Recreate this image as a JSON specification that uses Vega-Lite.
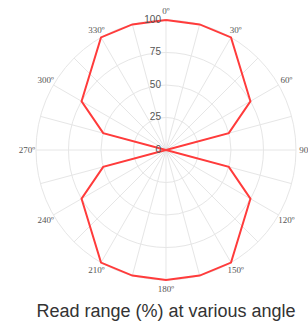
{
  "$schema": "https://vega.github.io/schema/vega-lite/v6.json",
  "width": 308,
  "height": 300,
  "autosize": "none",
  "padding": {"left": 0, "right": 0, "top": 0, "bottom": 25},
  "config": {"view": {"stroke": null}},
  "title": {"text": "Read range (%) at various angle", "orient": "bottom", "anchor": "middle", "dx": 12, "offset": 3, "font": "Liberation Sans", "fontSize": 18, "fontWeight": "normal", "color": "#333333"},
  "datasets": {
    "series": [
      {"angle": 0, "value": 100}, {"angle": 15, "value": 100}, {"angle": 30, "value": 100},
      {"angle": 60, "value": 75}, {"angle": 75, "value": 50}, {"angle": 90, "value": 0},
      {"angle": 105, "value": 50}, {"angle": 120, "value": 75}, {"angle": 150, "value": 100},
      {"angle": 165, "value": 100}, {"angle": 180, "value": 100}, {"angle": 195, "value": 100},
      {"angle": 210, "value": 100}, {"angle": 240, "value": 75}, {"angle": 255, "value": 50},
      {"angle": 270, "value": 0}, {"angle": 285, "value": 50}, {"angle": 300, "value": 75},
      {"angle": 330, "value": 100}, {"angle": 345, "value": 100}, {"angle": 360, "value": 100}
    ],
    "spokes": [
      {"angle": 0}, {"angle": 15}, {"angle": 30}, {"angle": 45}, {"angle": 60}, {"angle": 75},
      {"angle": 90}, {"angle": 105}, {"angle": 120}, {"angle": 135}, {"angle": 150}, {"angle": 165},
      {"angle": 180}, {"angle": 195}, {"angle": 210}, {"angle": 225}, {"angle": 240}, {"angle": 255},
      {"angle": 270}, {"angle": 285}, {"angle": 300}, {"angle": 315}, {"angle": 330}, {"angle": 345}
    ],
    "rings": [{"r": 25}, {"r": 50}, {"r": 75}, {"r": 100}],
    "angleLabels": [
      {"angle": 0, "label": "0º"}, {"angle": 30, "label": "30º"}, {"angle": 60, "label": "60º"},
      {"angle": 90, "label": "90º"}, {"angle": 120, "label": "120º"}, {"angle": 150, "label": "150º"},
      {"angle": 180, "label": "180º"}, {"angle": 210, "label": "210º"}, {"angle": 240, "label": "240º"},
      {"angle": 270, "label": "270º"}, {"angle": 300, "label": "300º"}, {"angle": 330, "label": "330º"}
    ],
    "radialLabels": [{"r": 0}, {"r": 25}, {"r": 50}, {"r": 75}, {"r": 100}]
  },
  "layer": [
    {
      "data": {"name": "rings"},
      "transform": [{"calculate": "0", "as": "cx"}],
      "mark": {"type": "point", "shape": "circle", "filled": false, "stroke": "#e6e6e6", "strokeWidth": 1, "opacity": 1},
      "encoding": {
        "x": {"field": "cx", "type": "quantitative", "scale": {"domain": [-127.69, 109.23], "nice": false, "zero": false}, "axis": null},
        "y": {"field": "cx", "type": "quantitative", "scale": {"domain": [-115.38, 115.38], "nice": false, "zero": false}, "axis": null},
        "size": {"field": "r", "type": "quantitative", "scale": {"type": "pow", "exponent": 2, "domain": [0, 100], "range": [0, 67600]}, "legend": null}
      }
    },
    {
      "data": {"name": "spokes"},
      "transform": [
        {"calculate": "0", "as": "x0"},
        {"calculate": "100*sin(datum.angle*PI/180)", "as": "x1"},
        {"calculate": "100*cos(datum.angle*PI/180)", "as": "y1"}
      ],
      "mark": {"type": "rule", "stroke": "#e6e6e6", "strokeWidth": 1},
      "encoding": {
        "x": {"field": "x0", "type": "quantitative"},
        "y": {"field": "x0", "type": "quantitative"},
        "x2": {"field": "x1"},
        "y2": {"field": "y1"}
      }
    },
    {
      "data": {"name": "angleLabels"},
      "transform": [
        {"calculate": "107*sin(datum.angle*PI/180)", "as": "lx"},
        {"calculate": "107*cos(datum.angle*PI/180)", "as": "ly"}
      ],
      "mark": {"type": "text", "font": "Liberation Serif", "fontSize": 9, "fill": "#555555", "align": "center", "baseline": "middle"},
      "encoding": {
        "x": {"field": "lx", "type": "quantitative"},
        "y": {"field": "ly", "type": "quantitative"},
        "text": {"field": "label"}
      }
    },
    {
      "data": {"name": "series"},
      "transform": [
        {"calculate": "datum.value*sin(datum.angle*PI/180)", "as": "px"},
        {"calculate": "datum.value*cos(datum.angle*PI/180)", "as": "py"}
      ],
      "mark": {"type": "line", "stroke": "#ff3b3b", "strokeWidth": 2},
      "encoding": {
        "x": {"field": "px", "type": "quantitative"},
        "y": {"field": "py", "type": "quantitative"},
        "order": {"field": "angle", "type": "quantitative"}
      }
    },
    {
      "data": {"name": "radialLabels"},
      "transform": [{"calculate": "0", "as": "rx"}],
      "mark": {"type": "text", "font": "Liberation Sans", "fontSize": 10, "fill": "#555555", "align": "right", "baseline": "middle", "dx": -5},
      "encoding": {
        "x": {"field": "rx", "type": "quantitative"},
        "y": {"field": "r", "type": "quantitative"},
        "text": {"field": "r", "type": "quantitative"}
      }
    }
  ]
}
